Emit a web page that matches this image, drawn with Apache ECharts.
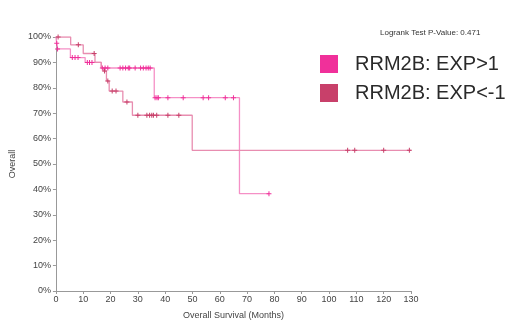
<!DOCTYPE html>
<html>
<head>
<meta charset="utf-8">
<script src="https://cdn.jsdelivr.net/npm/echarts@6/dist/echarts.min.js"></script>
<style>
  html, body { margin: 0; padding: 0; background: #fff; }
  #chart { width: 520px; height: 326px; }
</style>
</head>
<body>
<div id="chart"></div>
<script>
// step curve of EXP>1 (months, survival %)
const hiTimes = [0, 0.3, 0.6, 5.3, 10.7, 16.6, 36, 67.2, 78];
const hiSurv = [100, 97.5, 95.3, 91.9, 90, 87.8, 76.1, 38.3, 38.3];
// censored marks of EXP>1
const hiCensorT = [0.3, 0.6, 6, 7, 8.1, 11.5, 12.3, 13.2,
  17, 18, 19, 23.5, 24.5, 25.5, 26.5, 27, 29, 31, 32, 33, 33.8, 34.5,
  36.3, 37, 37.5, 41, 46.6, 53.9, 55.9, 62, 65, 78];
const hiCensorS = [97.5, 95.3, 91.9, 91.9, 91.9, 90, 90, 90,
  87.8, 87.8, 87.8, 87.8, 87.8, 87.8, 87.8, 87.8, 87.8, 87.8, 87.8, 87.8, 87.8, 87.8,
  76.1, 76.1, 76.1, 76.1, 76.1, 76.1, 76.1, 76.1, 76.1, 38.3];

// step curve of EXP<-1
const loTimes = [0, 5.4, 10, 14.3, 16.6, 17.5, 18.5, 19.5, 24.5, 28, 49.9, 130];
const loSurv = [100, 96.9, 93.5, 90, 87.8, 86.6, 82.7, 78.7, 74.4, 69.2, 55.4, 55.4];
const loCensorT = [0.8, 8.2, 14, 17.8, 19, 20.6, 22, 26, 30, 33.3, 34.3, 35.1, 35.7, 36.9, 41, 45,
  106.8, 109.4, 120, 129.4];
const loCensorS = [100, 96.9, 93.5, 86.6, 82.7, 78.7, 78.7, 74.4, 69.2, 69.2, 69.2, 69.2, 69.2, 69.2, 69.2, 69.2,
  55.4, 55.4, 55.4, 55.4];

const groupNames = ['RRM2B: EXP>1', 'RRM2B: EXP<-1'];
const xTicks = [0, 130, 10];
const yTicks = [0, 100, 10];

const pair = (t, s) => t.map((v, i) => [v, s[i]]);
const plus = 'path://M2,0H3V2H5V3H3V5H2V3H0V2H2Z';

const myChart = echarts.init(document.getElementById('chart'));
const font = 'Liberation Sans, Arial, sans-serif';

const option = {
  animation: false,
  grid: { left: 53, right: 109, top: 37, bottom: 35 },
  legend: {
    orient: 'vertical',
    left: 320,
    top: 54,
    padding: 0,
    itemWidth: 18,
    itemHeight: 18,
    itemGap: 9,
    icon: 'rect',
    data: groupNames,
    textStyle: { fontSize: 20, lineHeight: 18, color: '#2a2a2a', fontFamily: font, padding: [0, 0, 0, 12] }
  },
  graphic: [{
    type: 'text',
    left: 380,
    top: 29,
    style: { text: 'Logrank Test P-Value: 0.471', fontSize: 8, fill: '#333', fontFamily: font }
  }],
  xAxis: {
    type: 'value',
    min: xTicks[0], max: xTicks[1], interval: xTicks[2],
    name: 'Overall Survival (Months)',
    nameLocation: 'middle',
    nameGap: 20,
    nameTextStyle: { fontSize: 9, color: '#444', fontFamily: font },
    axisLine: { lineStyle: { color: '#999' } },
    axisTick: { length: 3, lineStyle: { color: '#999' } },
    axisLabel: { fontSize: 9, color: '#444', margin: 4, fontFamily: font },
    splitLine: { show: false }
  },
  yAxis: {
    type: 'value',
    min: yTicks[0], max: yTicks[1], interval: yTicks[2],
    name: 'Overall',
    nameLocation: 'middle',
    nameGap: 29,
    nameTextStyle: { fontSize: 9, color: '#444', fontFamily: font },
    axisLine: { show: true, lineStyle: { color: '#999' } },
    axisTick: { show: true, length: 3, lineStyle: { color: '#999' } },
    axisLabel: { fontSize: 9, color: '#444', margin: 5, formatter: '{value}%', fontFamily: font },
    splitLine: { show: false }
  },
  series: [
    {
      name: 'hiLine', type: 'line', step: 'end', symbol: 'none',
      data: pair(hiTimes, hiSurv),
      lineStyle: { color: '#f590c6', width: 1.3 }, z: 2
    },
    {
      name: 'loLine', type: 'line', step: 'end', symbol: 'none',
      data: pair(loTimes, loSurv),
      lineStyle: { color: '#e88db0', width: 1.3 }, z: 2
    },
    {
      name: groupNames[0], type: 'scatter', symbol: plus, symbolSize: 5,
      data: pair(hiCensorT, hiCensorS),
      itemStyle: { color: '#f0309a', opacity: 1 }, z: 3
    },
    {
      name: groupNames[1], type: 'scatter', symbol: plus, symbolSize: 5,
      data: pair(loCensorT, loCensorS),
      itemStyle: { color: '#c8406a', opacity: 1 }, z: 3
    }
  ]
};

myChart.setOption(option);
</script>
</body>
</html>
